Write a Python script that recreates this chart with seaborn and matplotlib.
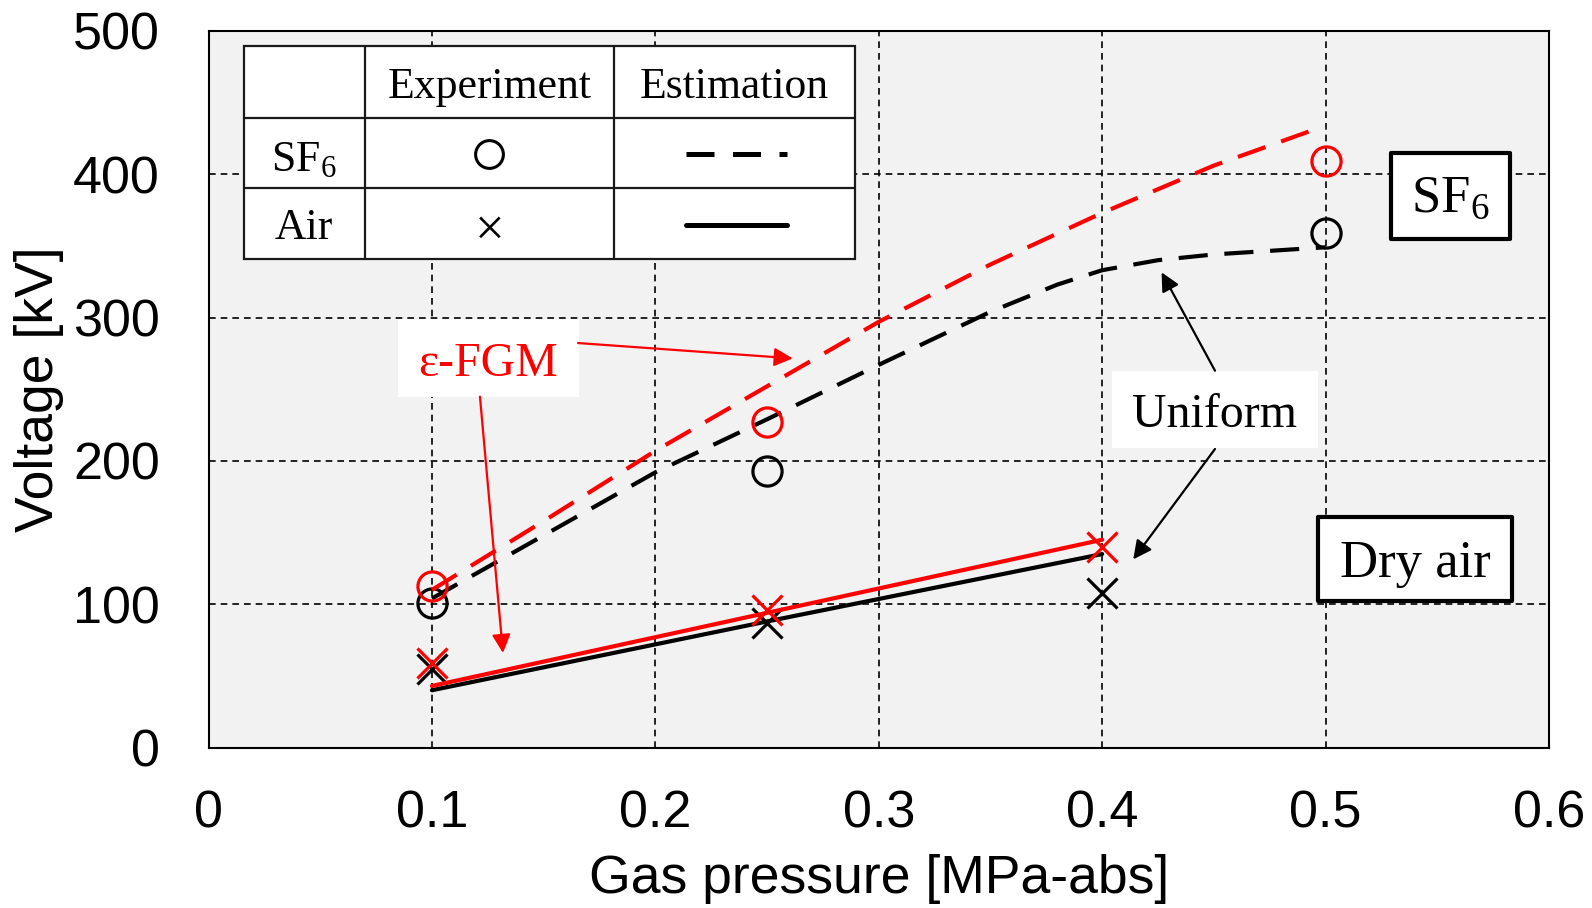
import numpy as np
import pandas as pd
import matplotlib
matplotlib.use("Agg")
import matplotlib.pyplot as plt
import seaborn as sns
from matplotlib.patches import Rectangle
from matplotlib.lines import Line2D

# ---------------- data ----------------
exp_pressure_sf6 = [0.1, 0.25, 0.5]
exp_sf6_uniform = [101, 193, 359]
exp_sf6_fgm = [113, 227, 409]

exp_pressure_air = [0.1, 0.25, 0.4]
exp_air_uniform = [55, 87, 108]
exp_air_fgm = [59, 96, 140]

est_pressure_sf6_uniform = [0.1, 0.15, 0.2, 0.25, 0.3, 0.35, 0.38, 0.4, 0.425, 0.45, 0.5]
est_sf6_uniform = [104, 148, 192, 229, 267, 304, 323, 333, 340, 344, 349]
est_pressure_sf6_fgm = [0.1, 0.15, 0.2, 0.25, 0.3, 0.35, 0.4, 0.45, 0.493]
est_sf6_fgm = [110, 158, 207, 252, 297, 337, 373, 406, 430]

est_pressure_air = [0.1, 0.25, 0.4]
est_air_uniform = [40, 88, 135]
est_air_fgm = [43, 94, 145]

x_ticks = [0, 0.1, 0.2, 0.3, 0.4, 0.5, 0.6]
x_tick_labels = ["0", "0.1", "0.2", "0.3", "0.4", "0.5", "0.6"]
y_ticks = [0, 100, 200, 300, 400, 500]
y_tick_labels = ["0", "100", "200", "300", "400", "500"]

x_label = "Gas pressure [MPa-abs]"
y_label = "Voltage [kV]"

# ---------------- style ----------------
sns.set_style("white")
plt.rcParams["font.family"] = ["Liberation Sans", "DejaVu Sans"]
plt.rcParams["mathtext.fontset"] = "custom"
plt.rcParams["mathtext.rm"] = "Liberation Serif"
plt.rcParams["mathtext.it"] = "Liberation Serif:italic"
plt.rcParams["text.color"] = "black"
plt.rcParams["axes.labelcolor"] = "black"
plt.rcParams["xtick.color"] = "black"
plt.rcParams["ytick.color"] = "black"
SERIF = ["Liberation Serif", "DejaVu Serif"]

RED = "#ff0000"
BLACK = "#000000"

fig = plt.figure(figsize=(15.92, 9.08), dpi=100)
ax = fig.add_axes([0.13097, 0.17665, 0.84202, 0.78943])
ax.set_facecolor("#f2f2f2")

DASH = (0, (7, 4))
LW = 3.0

# estimation curves
sns.lineplot(x=est_pressure_sf6_uniform, y=est_sf6_uniform, ax=ax, color=BLACK,
             linestyle=DASH, linewidth=LW, estimator=None, sort=False, zorder=3)
sns.lineplot(x=est_pressure_air, y=est_air_uniform, ax=ax, color=BLACK,
             linewidth=LW, estimator=None, sort=False, zorder=3)

# experiment black
sns.lineplot(x=exp_pressure_sf6, y=exp_sf6_uniform, ax=ax, linestyle="none",
             marker="o", markersize=21, markerfacecolor="none",
             markeredgecolor=BLACK, markeredgewidth=2.3, color=BLACK,
             estimator=None, zorder=4)
sns.lineplot(x=exp_pressure_air, y=exp_air_uniform, ax=ax, linestyle="none",
             marker="x", markersize=21, markeredgecolor=BLACK,
             markeredgewidth=2.3, color=BLACK, estimator=None, zorder=4)

sns.lineplot(x=est_pressure_sf6_fgm, y=est_sf6_fgm, ax=ax, color=RED,
             linestyle=DASH, linewidth=LW, estimator=None, sort=False, zorder=5)
sns.lineplot(x=est_pressure_air, y=est_air_fgm, ax=ax, color=RED,
             linewidth=LW, estimator=None, sort=False, zorder=5)

sns.lineplot(x=exp_pressure_sf6, y=exp_sf6_fgm, ax=ax, linestyle="none",
             marker="o", markersize=21, markerfacecolor="none",
             markeredgecolor=RED, markeredgewidth=2.3, color=RED,
             estimator=None, zorder=6)
sns.lineplot(x=exp_pressure_air, y=exp_air_fgm, ax=ax, linestyle="none",
             marker="x", markersize=21, markeredgecolor=RED,
             markeredgewidth=2.3, color=RED, estimator=None, zorder=6)

# ---------------- axes ----------------
ax.set_xlim(0, 0.6)
ax.set_ylim(0, 500)
ax.set_xticks(x_ticks)
ax.set_xticklabels(x_tick_labels)
ax.set_yticks(y_ticks)
ax.set_yticklabels(y_tick_labels)
ax.tick_params(axis="x", direction="in", length=6, width=1.2, pad=30,
               labelsize=37.5, colors=BLACK, top=False)
ax.tick_params(axis="y", length=0, pad=35, labelsize=37.5, colors=BLACK)
ax.set_xlabel(x_label, fontsize=38.5, color=BLACK)
ax.set_ylabel(y_label, fontsize=38.5, color=BLACK)
ax.xaxis.set_label_coords(0.5, -0.149)
ax.yaxis.set_label_coords(-0.1075, 0.5)

ax.set_axisbelow(True)
ax.grid(True, color=BLACK, linestyle=(0, (4, 3)), linewidth=1.2)
for sp in ax.spines.values():
    sp.set_visible(True)
    sp.set_color(BLACK)
    sp.set_linewidth(1.5)
if ax.get_legend() is not None:
    ax.get_legend().remove()

T = ax.transAxes

# ---------------- legend table ----------------
tx = [0.0263, 0.1164, 0.3027, 0.4822]
ty = [0.6818, 0.7810, 0.8786, 0.9792]
ax.add_patch(Rectangle((tx[0], ty[0]), tx[3] - tx[0], ty[3] - ty[0], transform=T,
                       facecolor="white", edgecolor="#1a1a1a", linewidth=1.6, zorder=7))
for xv in tx[1:3]:
    ax.add_line(Line2D([xv, xv], [ty[0], ty[3]], transform=T, color="#1a1a1a",
                       linewidth=1.6, zorder=8))
for yv in ty[1:3]:
    ax.add_line(Line2D([tx[0], tx[3]], [yv, yv], transform=T, color="#1a1a1a",
                       linewidth=1.6, zorder=8))

ax.text(0.2095, 0.9220, "Experiment", transform=T, ha="center", va="center",
        fontsize=31.5, family=SERIF, zorder=9)
ax.text(0.3925, 0.9220, "Estimation", transform=T, ha="center", va="center",
        fontsize=31.5, family=SERIF, zorder=9)
ax.text(0.0712, 0.8200, "SF$_6$", transform=T, ha="center", va="center",
        fontsize=31.5, family=SERIF, zorder=9)
ax.text(0.0712, 0.7250, "Air", transform=T, ha="center", va="center",
        fontsize=31.5, family=SERIF, zorder=9)
ax.add_line(Line2D([0.2095], [0.8285], transform=T, marker="o", markersize=20,
                   markerfacecolor="none", markeredgecolor=BLACK,
                   markeredgewidth=2.2, linestyle="none", zorder=9))
ax.text(0.2095, 0.7195, "\u00d7", transform=T, ha="center", va="center",
        fontsize=38, family=SERIF, zorder=9)
ax.add_line(Line2D([0.3562, 0.4317], [0.8281, 0.8281], transform=T, color=BLACK,
                   linewidth=3.6, linestyle=(0, (5.6, 3.7)), zorder=9))
ax.add_line(Line2D([0.3562, 0.4317], [0.7285, 0.7285], transform=T, color=BLACK,
                   linewidth=3.6, zorder=9))

# ---------------- labelled boxes ----------------
def box(x0, x1, y0, y1, edge):
    ax.add_patch(Rectangle((x0, y0), x1 - x0, y1 - y0, transform=T,
                           facecolor="white",
                           edgecolor=BLACK if edge else "none",
                           linewidth=3.0 if edge else 0, zorder=7,
                           joinstyle="round"))

box(0.8821, 0.9709, 0.7095, 0.8295, True)
ax.text(0.9265, 0.7650, "SF$_6$", transform=T, ha="center", va="center",
        fontsize=38, family=SERIF, zorder=9)

box(0.8277, 0.9724, 0.2045, 0.3217, True)
ax.text(0.9000, 0.2555, "Dry air", transform=T, ha="center", va="center",
        fontsize=38, family=SERIF, zorder=9)

box(0.6740, 0.8277, 0.4180, 0.5254, False)
ax.text(0.7508, 0.4640, "Uniform", transform=T, ha="center", va="center",
        fontsize=34.5, family=SERIF, zorder=9)

box(0.1414, 0.2764, 0.4891, 0.5979, False)
ax.text(0.2085, 0.5350, "\u03b5-FGM", transform=T, ha="center", va="center",
        fontsize=34.5, family=SERIF, color=RED, zorder=9)

# ---------------- arrows ----------------
def arrow(start, end, color):
    ax.annotate("", xy=end, xytext=start, xycoords="data", textcoords="data",
                arrowprops=dict(arrowstyle="-|>", color=color, lw=1.6,
                                mutation_scale=28, shrinkA=0, shrinkB=0),
                zorder=8)

arrow((0.1654, 282.2), (0.2615, 271.5), RED)
arrow((0.1215, 244.8), (0.1318, 66.0), RED)
arrow((0.4505, 262.9), (0.4266, 331.5), BLACK)
arrow((0.4505, 208.3), (0.4139, 131.3), BLACK)

fig.savefig("out.png", dpi=100)
